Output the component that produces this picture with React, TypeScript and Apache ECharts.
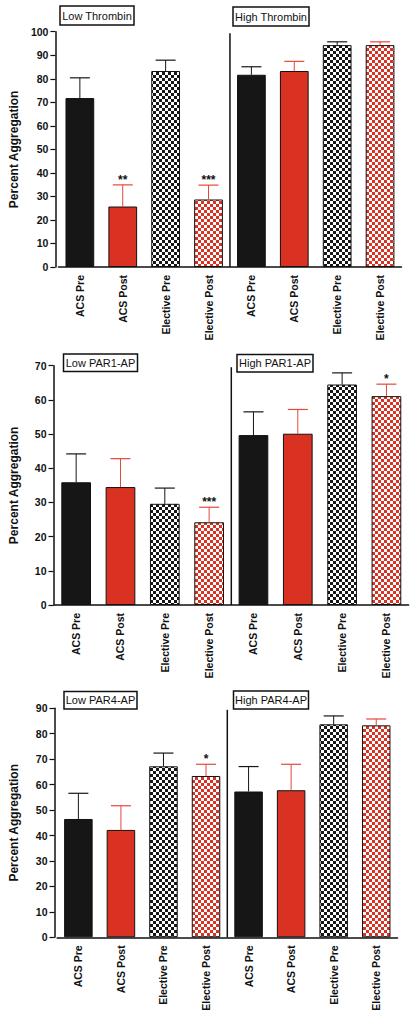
import React, { useEffect, useRef } from "react";
import * as echarts from "echarts";

const categories = ["ACS Pre", "ACS Post", "Elective Pre", "Elective Post", "ACS Pre", "ACS Post", "Elective Pre", "Elective Post"];
const barKinds = ["black", "red", "blackCheck", "redCheck", "black", "red", "blackCheck", "redCheck"];

const thrombinValues = [71.8, 25.7, 83.3, 28.7, 81.7, 83.3, 94.3, 94.3];
const thrombinErrors = [80.4, 34.9, 87.9, 34.8, 85.1, 87.4, 95.7, 95.7];
const thrombinStars = ["", "**", "", "***", "", "", "", ""];

const par1Values = [35.9, 34.5, 29.6, 24.2, 49.7, 50.1, 64.5, 61.1];
const par1Errors = [44.2, 42.8, 34.2, 28.6, 56.5, 57.2, 67.9, 64.6];
const par1Stars = ["", "", "", "***", "", "", "", "*"];

const par4Values = [46.5, 42.2, 67.2, 63.4, 57.3, 57.8, 83.7, 83.3];
const par4Errors = [56.6, 51.7, 72.4, 68.0, 67.1, 68.0, 87.0, 85.8];
const par4Stars = ["", "", "", "*", "", "", "", ""];

const yTitle = "Percent Aggregation";
const panelTitles = [
  ["Low Thrombin", "High Thrombin"],
  ["Low PAR1-AP", "High PAR1-AP"],
  ["Low PAR4-AP", "High PAR4-AP"],
];
const yMax = [100, 70, 90];
const yInterval = 10;

const BLACK = "#161616";
const RED = "#d93222";
const RED_ERR = "#e5473a";
const FONT = "Liberation Sans, Arial, sans-serif";

function makeChecker(color: string) {
  const c = document.createElement("canvas");
  c.width = 6;
  c.height = 6;
  const ctx = c.getContext("2d")!;
  ctx.fillStyle = "#ffffff";
  ctx.fillRect(0, 0, 6, 6);
  ctx.fillStyle = color;
  ctx.fillRect(0, 0, 3, 3);
  ctx.fillRect(3, 3, 3, 3);
  return { image: c, repeat: "repeat", imageWidth: 6, imageHeight: 6 } as any;
}

export default function App() {
  const ref = useRef<HTMLDivElement>(null);
  useEffect(() => {
    if (!ref.current) return;
    const chart = echarts.init(ref.current, undefined, { renderer: "svg" });
    const blackCheck = makeChecker(BLACK);
    const redCheck = makeChecker(RED);
    const fillFor = (k: string) =>
      k === "black" ? BLACK : k === "red" ? RED : k === "blackCheck" ? blackCheck : redCheck;
    const errColorFor = (k: string) => (k === "red" || k === "redCheck" ? RED_ERR : BLACK);

    const panels = [
      { vals: thrombinValues, errs: thrombinErrors, stars: thrombinStars, left: 49, width: 352.5, top: 31.7, height: 235.3, off: 3, gap: 29 },
      { vals: par1Values, errs: par1Errors, stars: par1Stars, left: 51.2, width: 357.4, top: 365.7, height: 239.3, off: 0.5, gap: 33.5 },
      { vals: par4Values, errs: par4Errors, stars: par4Stars, left: 54.3, width: 343.2, top: 708.3, height: 229, off: 2.6, gap: 34.5 },
    ];

    const grid: any[] = [];
    const xAxis: any[] = [];
    const yAxis: any[] = [];
    const series: any[] = [];
    panels.forEach((p, i) => {
      grid.push({ left: p.left, width: p.width, top: p.top, height: p.height });
      xAxis.push({
        type: "category",
        gridIndex: i,
        data: categories,
        axisLine: { lineStyle: { color: "#111", width: 1.5 } },
        axisTick: { alignWithLabel: true, length: 5, lineStyle: { color: "#111", width: 1.2 } },
        axisLabel: { rotate: 90, margin: 8, fontFamily: FONT, fontWeight: "bold", fontSize: 10.5, color: "#111", interval: 0 },
      });
      yAxis.push({
        type: "value",
        gridIndex: i,
        min: 0,
        max: yMax[i],
        interval: yInterval,
        offset: p.off,
        name: yTitle,
        nameLocation: "middle",
        nameGap: p.gap,
        nameTextStyle: { fontFamily: FONT, fontWeight: "bold", fontSize: 12, color: "#111" },
        splitLine: { show: false },
        axisLine: { show: true, lineStyle: { color: "#111", width: 1.5 } },
        axisTick: { show: true, length: 5, lineStyle: { color: "#111", width: 1.2 } },
        axisLabel: { margin: 7, fontFamily: FONT, fontWeight: "bold", fontSize: 10.5, color: "#111" },
      });
      series.push({
        type: "bar",
        xAxisIndex: i,
        yAxisIndex: i,
        barWidth: "67%",
        data: p.vals.map((v, j) => ({
          value: v,
          itemStyle: { color: fillFor(barKinds[j]), borderColor: "#111", borderWidth: 1 },
        })),
      });
      series.push({
        type: "custom",
        xAxisIndex: i,
        yAxisIndex: i,
        z: 5,
        data: p.vals.map((v, j) => [j, v, p.errs[j]]),
        renderItem: (params: any, api: any) => {
          const idx = params.dataIndex;
          const x = api.value(0);
          const p0 = api.coord([x, api.value(1)]);
          const p1 = api.coord([x, api.value(2)]);
          const col = errColorFor(barKinds[idx]);
          const children: any[] = [
            { type: "line", shape: { x1: p0[0], y1: p0[1], x2: p1[0], y2: p1[1] }, style: { stroke: col, lineWidth: 1 } },
            { type: "line", shape: { x1: p1[0] - 10, y1: p1[1], x2: p1[0] + 10, y2: p1[1] }, style: { stroke: col, lineWidth: 1.2 } },
          ];
          const s = p.stars[idx];
          if (s) {
            children.push({
              type: "text",
              x: p1[0],
              y: p1[1] + 1,
              style: { text: s, fill: "#111", fontFamily: FONT, fontWeight: "bold", fontSize: 12, align: "center", verticalAlign: "bottom" },
            });
          }
          return { type: "group", children };
        },
      });
      series.push({
        type: "custom",
        xAxisIndex: i,
        yAxisIndex: i,
        z: 6,
        data: [[3, yMax[i]]],
        renderItem: (params: any, api: any) => {
          const top = api.coord([3, api.value(1)]);
          const bot = api.coord([3, 0]);
          const w = api.size([1, 0])[0];
          const x = top[0] + w / 2;
          return { type: "line", shape: { x1: x, y1: top[1] + 1.5, x2: x, y2: bot[1] }, style: { stroke: "#111", lineWidth: 1.5 } };
        },
      });
    });

    const boxes = [
      { text: panelTitles[0][0], x: 60, y: 6, w: 74, h: 19 },
      { text: panelTitles[0][1], x: 233, y: 7, w: 76, h: 19 },
      { text: panelTitles[1][0], x: 63.5, y: 354, w: 74, h: 17.5 },
      { text: panelTitles[1][1], x: 237, y: 354.5, w: 76, h: 17.5 },
      { text: panelTitles[2][0], x: 64, y: 691.5, w: 73, h: 17.5 },
      { text: panelTitles[2][1], x: 233.5, y: 691, w: 75, h: 18 },
    ];
    const graphic: any[] = [];
    boxes.forEach((b) => {
      graphic.push({ type: "rect", shape: { x: b.x, y: b.y, width: b.w, height: b.h }, style: { fill: "#fff", stroke: "#111", lineWidth: 1.5 } });
      graphic.push({
        type: "text",
        x: b.x + b.w / 2,
        y: b.y + b.h / 2,
        style: { text: b.text, fill: "#111", fontFamily: FONT, fontSize: 11, align: "center", verticalAlign: "middle" },
      });
    });

    chart.setOption({
      animation: false,
      backgroundColor: "#ffffff",
      grid,
      xAxis,
      yAxis,
      series,
      graphic,
    });
    return () => chart.dispose();
  }, []);
  return <div ref={ref} style={{ position: "absolute", left: 0, top: 0, width: 415, height: 1016 }} />;
}
